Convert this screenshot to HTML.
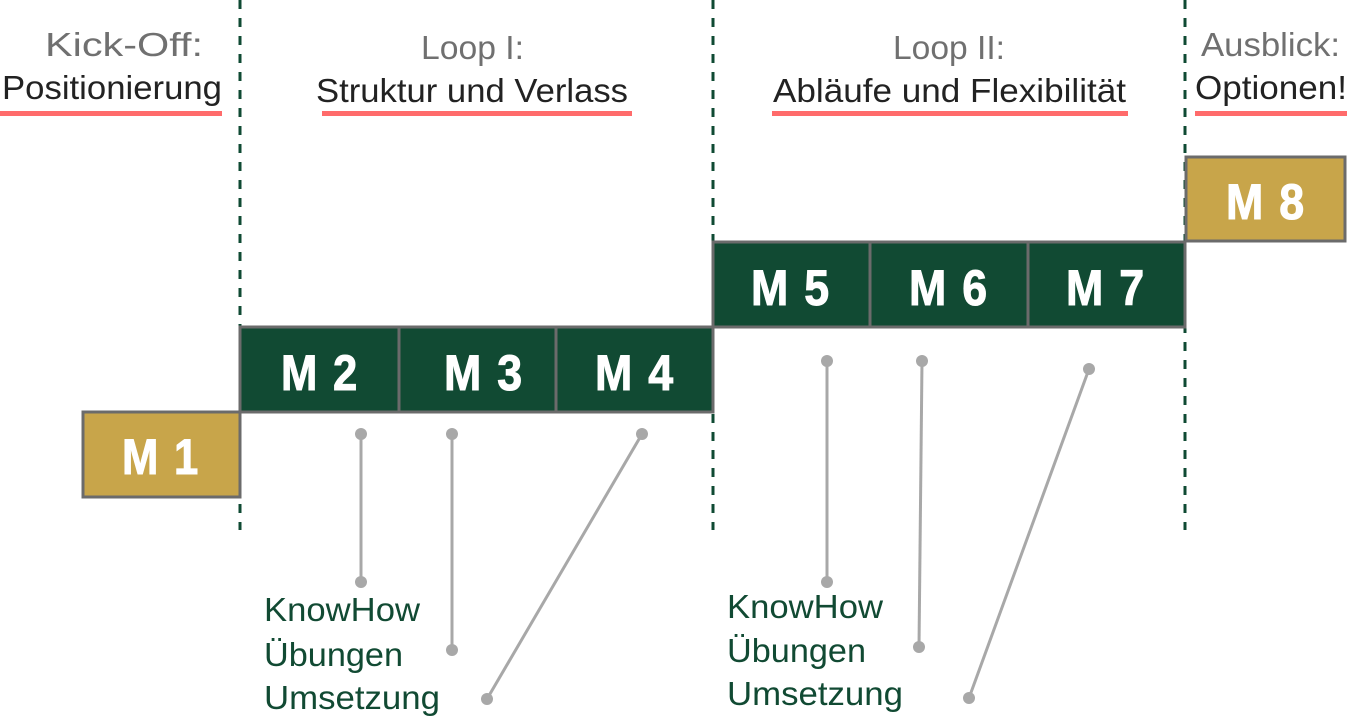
<!DOCTYPE html>
<html><head><meta charset="utf-8"><style>
html,body{margin:0;padding:0;background:#fff;}
svg{display:block;}
.h1{font-family:"Liberation Sans",sans-serif;font-size:33px;fill:#707070;}
.h2{font-family:"Liberation Sans",sans-serif;font-size:33px;fill:#222;}
.m{font-family:"Liberation Sans Narrow","Liberation Sans",sans-serif;font-weight:bold;font-size:50px;fill:#fff;stroke:#fff;stroke-width:1;text-anchor:middle;letter-spacing:2px;}
.t{font-family:"Liberation Sans",sans-serif;font-size:33px;fill:#114a33;}
</style></head><body>
<svg width="1351" height="716" viewBox="0 0 1351 716">
<g stroke="#0f4a33" stroke-width="3" stroke-dasharray="9,9">
<line x1="240" y1="0" x2="240" y2="530"/>
<line x1="713" y1="0" x2="713" y2="530"/>
<line x1="1185" y1="0" x2="1185" y2="530"/>
</g>
<text class="h1" x="45" y="56" textLength="158" lengthAdjust="spacingAndGlyphs">Kick-Off:</text>
<text class="h2" x="2" y="99" textLength="220" lengthAdjust="spacingAndGlyphs">Positionierung</text>
<rect x="0" y="111" width="222" height="5" fill="#ff6b6b"/>
<text class="h1" x="421" y="59" textLength="103" lengthAdjust="spacingAndGlyphs">Loop I:</text>
<text class="h2" x="316" y="102" textLength="312" lengthAdjust="spacingAndGlyphs">Struktur und Verlass</text>
<rect x="322" y="111" width="310" height="5" fill="#ff6b6b"/>
<text class="h1" x="893" y="59" textLength="112" lengthAdjust="spacingAndGlyphs">Loop II:</text>
<text class="h2" x="773" y="102" textLength="353" lengthAdjust="spacingAndGlyphs">Abläufe und Flexibilität</text>
<rect x="772" y="111" width="356" height="5" fill="#ff6b6b"/>
<text class="h1" x="1201" y="56" textLength="139" lengthAdjust="spacingAndGlyphs">Ausblick:</text>
<text class="h2" x="1195" y="99" textLength="152" lengthAdjust="spacingAndGlyphs">Optionen!</text>
<rect x="1195" y="111" width="152" height="5" fill="#ff6b6b"/>
<g stroke="#6b6b6b" stroke-width="3">
<rect x="83" y="412" width="157" height="85" fill="#c8a54a"/>
<rect x="240" y="327" width="473" height="85" fill="#114a33"/>
<line x1="399" y1="327" x2="399" y2="412"/>
<line x1="556" y1="327" x2="556" y2="412"/>
<rect x="713" y="242" width="472" height="85" fill="#114a33"/>
<line x1="870" y1="242" x2="870" y2="327"/>
<line x1="1028" y1="242" x2="1028" y2="327"/>
<rect x="1186" y="157" width="159" height="84" fill="#c8a54a"/>
</g>
<text class="m" x="161" y="474" textLength="78" lengthAdjust="spacingAndGlyphs">M 1</text>
<text class="m" x="320" y="390" textLength="78" lengthAdjust="spacingAndGlyphs">M 2</text>
<text class="m" x="484" y="390" textLength="80" lengthAdjust="spacingAndGlyphs">M 3</text>
<text class="m" x="635" y="390" textLength="80" lengthAdjust="spacingAndGlyphs">M 4</text>
<text class="m" x="791" y="305" textLength="80" lengthAdjust="spacingAndGlyphs">M 5</text>
<text class="m" x="949" y="305" textLength="80" lengthAdjust="spacingAndGlyphs">M 6</text>
<text class="m" x="1106" y="305" textLength="80" lengthAdjust="spacingAndGlyphs">M 7</text>
<text class="m" x="1266" y="219" textLength="80" lengthAdjust="spacingAndGlyphs">M 8</text>
<g stroke="#a8a8a8" stroke-width="3" fill="#a8a8a8">
<line x1="361" y1="434" x2="361" y2="582"/>
<line x1="452" y1="434" x2="452" y2="650"/>
<line x1="642" y1="434" x2="487" y2="699"/>
<line x1="827" y1="361" x2="827" y2="582"/>
<line x1="922" y1="361" x2="919" y2="647"/>
<line x1="1089" y1="369" x2="969" y2="698"/>
<g stroke="none">
<circle cx="361" cy="434" r="6"/><circle cx="361" cy="582" r="6"/>
<circle cx="452" cy="434" r="6"/><circle cx="452" cy="650" r="6"/>
<circle cx="642" cy="434" r="6"/><circle cx="487" cy="699" r="6"/>
<circle cx="827" cy="361" r="6"/><circle cx="827" cy="582" r="6"/>
<circle cx="922" cy="361" r="6"/><circle cx="919" cy="647" r="6"/>
<circle cx="1089" cy="369" r="6"/><circle cx="969" cy="698" r="6"/>
</g></g>
<text class="t" x="264" y="621" textLength="156" lengthAdjust="spacingAndGlyphs">KnowHow</text>
<text class="t" x="264" y="666" textLength="139" lengthAdjust="spacingAndGlyphs">Übungen</text>
<text class="t" x="264" y="709" textLength="176" lengthAdjust="spacingAndGlyphs">Umsetzung</text>
<text class="t" x="727" y="618" textLength="156" lengthAdjust="spacingAndGlyphs">KnowHow</text>
<text class="t" x="727" y="662" textLength="139" lengthAdjust="spacingAndGlyphs">Übungen</text>
<text class="t" x="727" y="705" textLength="176" lengthAdjust="spacingAndGlyphs">Umsetzung</text>
</svg>
</body></html>
